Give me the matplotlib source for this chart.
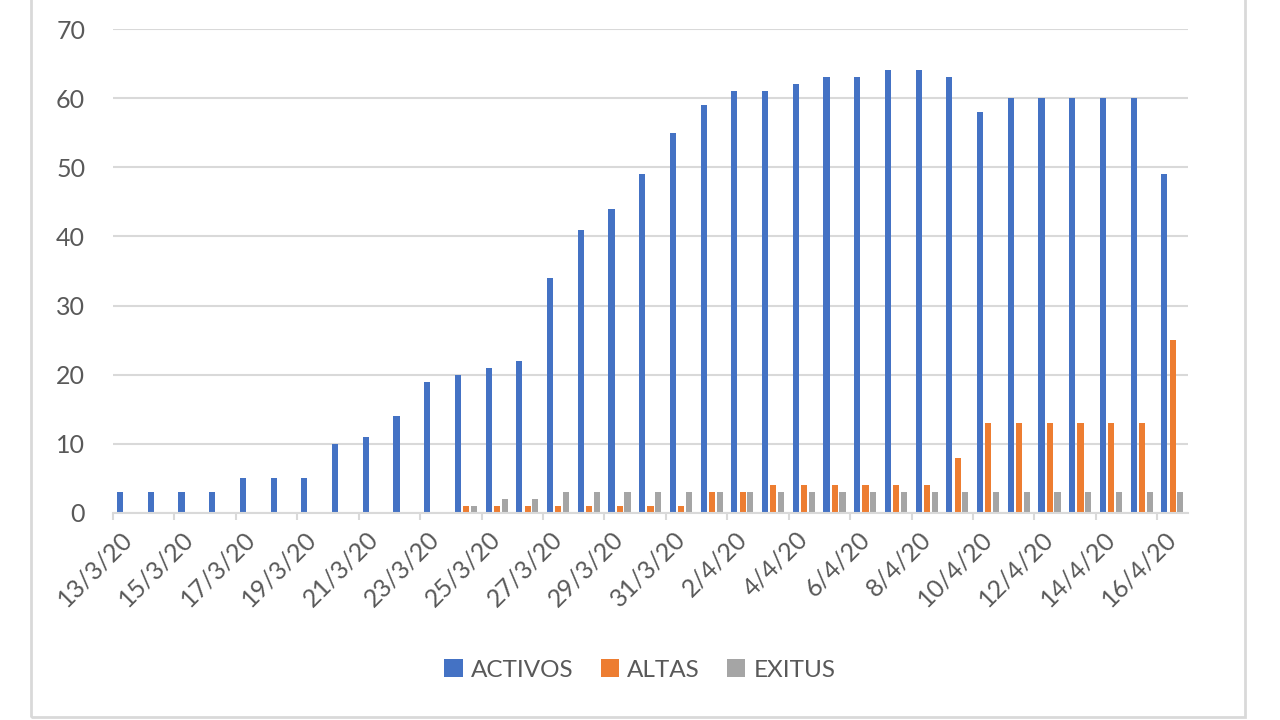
import matplotlib
matplotlib.use("Agg")
from matplotlib import pyplot as plt
from matplotlib.patches import Rectangle
import numpy as np

plt.rcParams['font.family'] = ['Lato', 'DejaVu Sans']

# datos
fechas = ["13/3/20", "14/3/20", "15/3/20", "16/3/20", "17/3/20", "18/3/20", "19/3/20",
          "20/3/20", "21/3/20", "22/3/20", "23/3/20", "24/3/20", "25/3/20", "26/3/20",
          "27/3/20", "28/3/20", "29/3/20", "30/3/20", "31/3/20", "1/4/20", "2/4/20",
          "3/4/20", "4/4/20", "5/4/20", "6/4/20", "7/4/20", "8/4/20", "9/4/20",
          "10/4/20", "11/4/20", "12/4/20", "13/4/20", "14/4/20", "15/4/20", "16/4/20"]
activos = [3, 3, 3, 3, 5, 5, 5, 10, 11, 14, 19, 20, 21, 22, 34, 41, 44, 49, 55, 59,
           61, 61, 62, 63, 63, 64, 64, 63, 58, 60, 60, 60, 60, 60, 49]
altas = [0, 0, 0, 0, 0, 0, 0, 0, 0, 0, 0, 1, 1, 1, 1, 1, 1, 1, 1, 3,
         3, 4, 4, 4, 4, 4, 4, 8, 13, 13, 13, 13, 13, 13, 25]
exitus = [0, 0, 0, 0, 0, 0, 0, 0, 0, 0, 0, 1, 2, 2, 3, 3, 3, 3, 3, 3,
          3, 3, 3, 3, 3, 3, 3, 3, 3, 3, 3, 3, 3, 3, 3]

texto = "#595959"
gris = "#d9d9d9"

fig = plt.figure(figsize=(12.8, 7.2), dpi=100)
ax = fig.add_axes([113/1280, 1-513/720, (1188-113)/1280, (513-29)/720])

x = np.arange(len(fechas))
w = 0.2
ax.bar(x - 0.27, activos, w, color="#4472C4", label="ACTIVOS")
ax.bar(x, altas, w, color="#ED7D31", label="ALTAS")
ax.bar(x + 0.25, exitus, w, color="#A5A5A5", label="EXITUS")

ax.set_xlim(-0.5, len(fechas) - 0.5)
ax.set_ylim(0, 70)
ax.set_yticks(range(0, 80, 10))
ax.yaxis.grid(True, color=gris, linewidth=1.5)
ax.set_axisbelow(True)

for s in ["top", "right", "left"]:
    ax.spines[s].set_visible(False)
ax.spines["bottom"].set_color(gris)
ax.spines["bottom"].set_linewidth(1.5)

# etiquetas cada dos dias, marcas entre grupos
ax.set_xticks(x[::2])
ax.set_xticklabels(fechas[::2], rotation=45, ha="right", va="center",
                   rotation_mode="anchor")
ax.set_xticks(np.arange(-0.5, len(fechas), 2), minor=True)
ax.tick_params(axis="x", which="major", length=0, pad=16, labelsize=18, labelcolor=texto)
ax.tick_params(axis="x", which="minor", length=5, width=1.5, color=gris)
ax.tick_params(axis="y", length=0, pad=20, labelsize=18, labelcolor=texto)

fig.legend(loc="center", bbox_to_anchor=(0.5, 1-670/720), ncol=3, frameon=False,
           fontsize=17.5, labelcolor=texto, handlelength=0.75, handleheight=0.75,
           handletextpad=0.35, columnspacing=1.1)

# marco exterior del grafico
fig.patches.append(Rectangle((31/1280, 1-717/720), (1245-31)/1280, 1.1,
                             transform=fig.transFigure, fill=False,
                             edgecolor=gris, linewidth=2))

plt.savefig("out.png", dpi=100)
